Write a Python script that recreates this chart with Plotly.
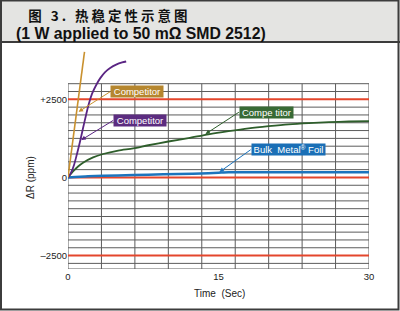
import plotly.graph_objects as go

# ---------------- data ----------------
orange_t = [0, 1.645]
orange_ppm = [0, 4020]

purple_t = [0, 0.3, 0.6, 0.9, 1.2, 1.5, 1.8, 2.1, 2.4, 2.8, 3.2, 3.7, 4.2, 4.8, 5.4, 5.8]
purple_ppm = [0, 150, 400, 760, 1150, 1580, 2000, 2380, 2680, 2950, 3170, 3370, 3500, 3610, 3680, 3710]

green_t = [0, 0.5, 1, 1.5, 2.5, 3.5, 5, 6.5, 8, 10, 12, 14, 16, 18, 20, 22, 24, 26, 28, 30]
green_ppm = [0, 190, 350, 470, 640, 750, 860, 930, 1030, 1150, 1260, 1380, 1480, 1570, 1640, 1700, 1740, 1770, 1790, 1805]

blue_t = [0, 2, 5, 8, 11, 14, 15, 16, 20, 25, 30]
blue_ppm = [0, 35, 65, 90, 110, 135, 150, 165, 168, 170, 170]

x_ticks = [0, 15, 30]
x_ticklabels = ["0", "15", "30"]
y_ticks = [-2500, 0, 2500]
y_ticklabels = ["–2500", "0", "+2500"]
limit_lines = [-2500, 0, 2500]

title_line1 = "图 3. 热稳定性示意图"
title_line2 = "(1 W applied to 50 mΩ SMD 2512)"
x_title = "Time  (Sec)"
y_title = "ΔR (ppm)"

# ---------------- layout geometry ----------------
W, H = 400, 311
ML, MR, MT, MB = 68, 31, 44, 42
PW, PH = W - ML - MR, H - MT - MB
X_RANGE = [0, 30]
Y_RANGE = [-2930, 4270]
GRID_TOP = 3000
GRID_BOTTOM = -2930


def px(x):
    return (x - ML) / PW


def py(y):
    return (H - MB - y) / PH


FONT = "Liberation Sans, Arial, sans-serif"
GRID = "#5c5c5c"
RED = "#e4462c"
ORANGE = "#c9912f"
ORANGE_BOX = "#b5862e"
PURPLE = "#5a2583"
PURPLE_BOX = "#5c2c80"
GREEN = "#2e5e2b"
GREEN_BOX = "#386a35"
BLUE = "#1c74bd"
BLUE_BOX = "#1a6fb6"

fig = go.Figure()

fig.add_trace(go.Scatter(x=blue_t, y=blue_ppm, mode="lines",
                         line=dict(color=BLUE, width=2.5, shape="spline", smoothing=0.6)))
fig.add_trace(go.Scatter(x=green_t, y=green_ppm, mode="lines",
                         line=dict(color=GREEN, width=1.8, shape="spline", smoothing=0.8)))
fig.add_trace(go.Scatter(x=purple_t, y=purple_ppm, mode="lines",
                         line=dict(color=PURPLE, width=1.8, shape="spline", smoothing=0.8)))
fig.add_trace(go.Scatter(x=orange_t, y=orange_ppm, mode="lines",
                         line=dict(color=ORANGE, width=1.6)))

shapes = []
# header band
shapes.append(dict(type="rect", xref="paper", yref="paper", x0=px(0), x1=px(400), y0=py(41.5), y1=py(0),
                   fillcolor="#e4e4e2", line=dict(width=0), layer="below"))
shapes.append(dict(type="line", xref="paper", yref="paper", x0=px(0), x1=px(400), y0=py(42), y1=py(42),
                   line=dict(color="#3c3c3c", width=2), layer="below"))
# outer frame
shapes.append(dict(type="rect", xref="paper", yref="paper", x0=px(1), x1=px(398.5), y0=py(309.5), y1=py(0.5),
                   line=dict(color="#3c3c3c", width=2), layer="below"))

# grid
step_x = 30 / 9
for k in range(1, 9):
    xv = k * step_x
    shapes.append(dict(type="line", xref="x", yref="y", x0=xv, x1=xv, y0=GRID_BOTTOM, y1=GRID_TOP,
                       line=dict(color=GRID, width=1), layer="below"))
for v in range(-2750, 3000, 250):
    if v in limit_lines:
        continue
    shapes.append(dict(type="line", xref="x", yref="y", x0=0, x1=30, y0=v, y1=v,
                       line=dict(color=GRID, width=1), layer="below"))
shapes.append(dict(type="rect", xref="x", yref="y", x0=0, x1=30, y0=GRID_BOTTOM, y1=GRID_TOP,
                   line=dict(color=GRID, width=1), layer="below"))
for v in limit_lines:
    shapes.append(dict(type="line", xref="x", yref="y", x0=0, x1=30, y0=v, y1=v,
                       line=dict(color=RED, width=2), layer="below"))

annotations = []
title_text = ("<b><span style='font-family:Noto Sans CJK SC;font-size:13.5px;letter-spacing:3px'>&nbsp;&nbsp;"
              + title_line1 + "</span><br><span style='font-size:15.8px'>" + title_line2 + "</span></b>")
annotations.append(dict(text=title_text, xref="paper", yref="paper",
                        x=px(14), y=py(23.2), xanchor="left", yanchor="middle", align="left",
                        showarrow=False,
                        font=dict(family=FONT, size=13.5, color="#111")))
annotations.append(dict(text=x_title, xref="paper", yref="paper", x=px(219), y=py(293),
                        xanchor="center", yanchor="middle", showarrow=False,
                        font=dict(family=FONT, size=10, color="#222")))
annotations.append(dict(text=y_title, xref="paper", yref="paper", x=px(30), y=py(178),
                        xanchor="center", yanchor="middle", showarrow=False, textangle=-90,
                        font=dict(family=FONT, size=10, color="#222")))


def label(text, head, tail, color, boxcolor, w, yanchor="middle"):
    return dict(text=text, x=head[0], y=head[1], ax=tail[0], ay=tail[1], xref="x", yref="y",
                axref="x", ayref="y", xanchor="left", yanchor=yanchor, showarrow=True,
                arrowhead=2, arrowsize=0.9, arrowwidth=1, arrowcolor=color,
                bgcolor=boxcolor, borderpad=0, width=w, height=11,
                font=dict(family=FONT, size=9.5, color="white"))


annotations.append(label("Competitor", (1.05, 2100), (4.19, 2740), ORANGE, ORANGE_BOX, 52))
annotations.append(label("Competitor", (1.32, 1197), (4.49, 1821), PURPLE, PURPLE_BOX, 52))
annotations.append(label("Compe titor", (13.7, 1389), (17.03, 2086), GREEN, GREEN_BOX, 53))
annotations.append(label("Bulk  Metal<sup>®</sup> Foil", (15.1, 173), (18.2, 886), BLUE, BLUE_BOX, 73))

fig.update_layout(
    width=W, height=H,
    margin=dict(l=ML, r=MR, t=MT, b=MB, pad=0),
    paper_bgcolor="white", plot_bgcolor="rgba(0,0,0,0)",
    showlegend=False,
    shapes=shapes, annotations=annotations,
    xaxis=dict(range=X_RANGE, showgrid=False, zeroline=False, showline=False,
               tickvals=x_ticks, ticktext=x_ticklabels, ticks="",
               tickfont=dict(family=FONT, size=9.5, color="#222"), fixedrange=True),
    yaxis=dict(range=Y_RANGE, showgrid=False, zeroline=False, showline=False,
               tickvals=y_ticks, ticktext=y_ticklabels, ticks="",
               tickfont=dict(family=FONT, size=9.5, color="#222"), fixedrange=True),
)

fig.write_html("out.html")
